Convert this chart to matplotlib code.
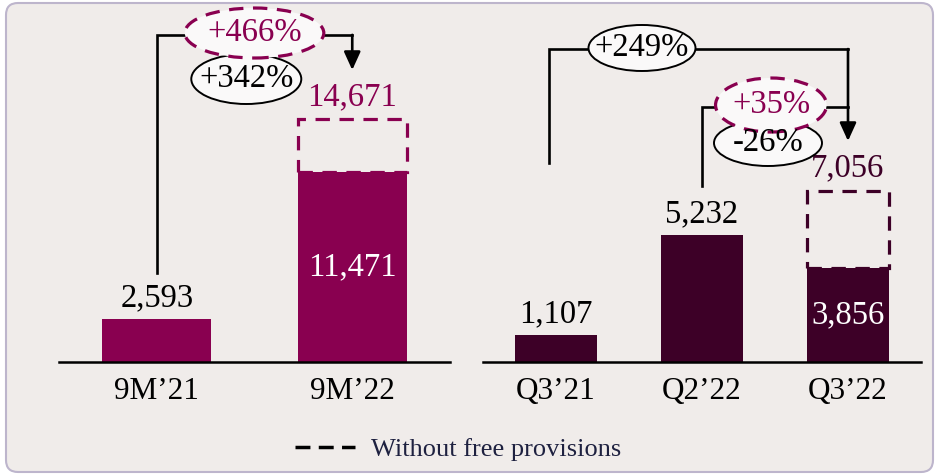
import matplotlib
matplotlib.use('Agg')
import matplotlib.pyplot as plt
from matplotlib.patches import Ellipse, FancyBboxPatch
from matplotlib.lines import Line2D
from matplotlib.transforms import ScaledTranslation

plt.rcParams['font.family'] = ['Liberation Serif', 'DejaVu Serif']

# data
left_cats = ['9M\u201921', '9M\u201922']
left_vals = [2593, 11471]
left_full = [None, 14671]

right_cats = ['Q3\u201921', 'Q2\u201922', 'Q3\u201922']
right_vals = [1107, 5232, 3856]
right_full = [None, None, 7056]

growth_left = ['+466%', '+342%']
growth_right = ['+249%', '+35%', '-26%']

maroon = '#890050'
plum = '#3D0027'
bg = '#F0ECEA'
fill_ell = '#FAF9F9'
dash = (0, (4.5, 3))
fs = 23.5

fig = plt.figure(figsize=(9.37, 4.75), dpi=100, facecolor='white')
fig.add_artist(FancyBboxPatch((0.06, 0.03), 9.27, 4.69,
                              boxstyle='round,pad=0,rounding_size=0.12',
                              transform=fig.dpi_scale_trans,
                              facecolor=bg, edgecolor='#BDB5CC', lw=1.5, zorder=-10))

ax1 = fig.add_axes([59/937, 113/475, 391/937, 362/475])
ax2 = fig.add_axes([483/937, 113/475, 438/937, 362/475])
ax1.set_ylim(0, 21856)
ax1.set_xlim(-0.5, 1.5)
ax2.set_ylim(0, 14913)
ax2.set_xlim(-0.5, 2.5)


def draw_panel(ax, cats, vals, full, color):
    x = list(range(len(cats)))
    ax.bar(x, vals, width=0.56, color=color, zorder=2)
    for i, (v, f) in enumerate(zip(vals, full)):
        if f is None:
            ax.annotate(f'{v:,}', (i, v), xytext=(0, 15), textcoords='offset points',
                        ha='center', va='center', fontsize=fs, color='black')
        else:
            ax.bar(i, f - v, bottom=v, width=0.56, fill=False, edgecolor=color,
                   lw=2.3, linestyle=dash, zorder=3)
            ax.text(i, v / 2, f'{v:,}', ha='center', va='center', fontsize=fs,
                    color='white', zorder=4)
            ax.annotate(f'{f:,}', (i, f), xytext=(0, 16), textcoords='offset points',
                        ha='center', va='center', fontsize=fs, color=color)
    ax.set_facecolor('none')
    for s in ['top', 'right', 'left']:
        ax.spines[s].set_visible(False)
    ax.spines['bottom'].set_linewidth(1.8)
    ax.set_yticks([])
    ax.set_xticks(x)
    ax.set_xticklabels(cats, fontsize=22.5)
    ax.tick_params(axis='x', length=0, pad=11)


draw_panel(ax1, left_cats, left_vals, left_full, maroon)
draw_panel(ax2, right_cats, right_vals, right_full, plum)


def bracket(ax, x0, y0, x1, ytop, ytip, arrow=True):
    ax.plot([x0, x0, x1], [y0, ytop, ytop], color='black', lw=1.9, zorder=5,
            clip_on=False, solid_joinstyle='miter')
    if arrow:
        ax.annotate('', xy=(x1, ytip), xytext=(x1, ytop),
                    arrowprops=dict(arrowstyle='-|>,head_length=1.1,head_width=0.5',
                                    color='black', lw=1.9, shrinkA=0, shrinkB=0),
                    zorder=5, annotation_clip=False)


def bubble(ax, cx, cy, w, h, txt, color, dashed):
    tr = fig.dpi_scale_trans + ScaledTranslation(cx, cy, ax.transData)
    e = Ellipse((0, 0), w / 100, h / 100, transform=tr, facecolor=fill_ell,
                edgecolor=color, lw=2.3 if dashed else 1.4,
                linestyle=dash if dashed else '-', zorder=6, clip_on=False)
    ax.add_artist(e)
    ax.text(cx, cy, txt, ha='center', va='center', fontsize=fs, color=color,
            zorder=7, clip_on=False)


# left panel growth
bracket(ax1, 0, 5373, 1, 19750, 17630)
bubble(ax1, 0.458, 17086, 110, 50, growth_left[1], 'black', False)
bubble(ax1, 0.499, 19863, 139, 50, growth_left[0], maroon, True)

# right panel growth
bracket(ax2, -0.048, 8198, 2, 12894, 9104)
bracket(ax2, 1, 7250, 2, 10505, 9104, arrow=False)
bubble(ax2, 0.589, 12936, 107, 46, growth_right[0], 'black', False)
bubble(ax2, 1.452, 9022, 108, 46, growth_right[2], 'black', False)
bubble(ax2, 1.473, 10587, 111, 54, growth_right[1], maroon, True)

handle = Line2D([], [], color='black', lw=2.5, linestyle=(0, (4.3, 2.4)))
fig.legend([handle], ['Without free provisions'], loc='center',
           bbox_to_anchor=(458/937, 26/475), frameon=False, fontsize=19,
           handlelength=2.3, handletextpad=0.6, labelcolor='#1E2140')

fig.savefig('out.png', dpi=100, facecolor='white')
